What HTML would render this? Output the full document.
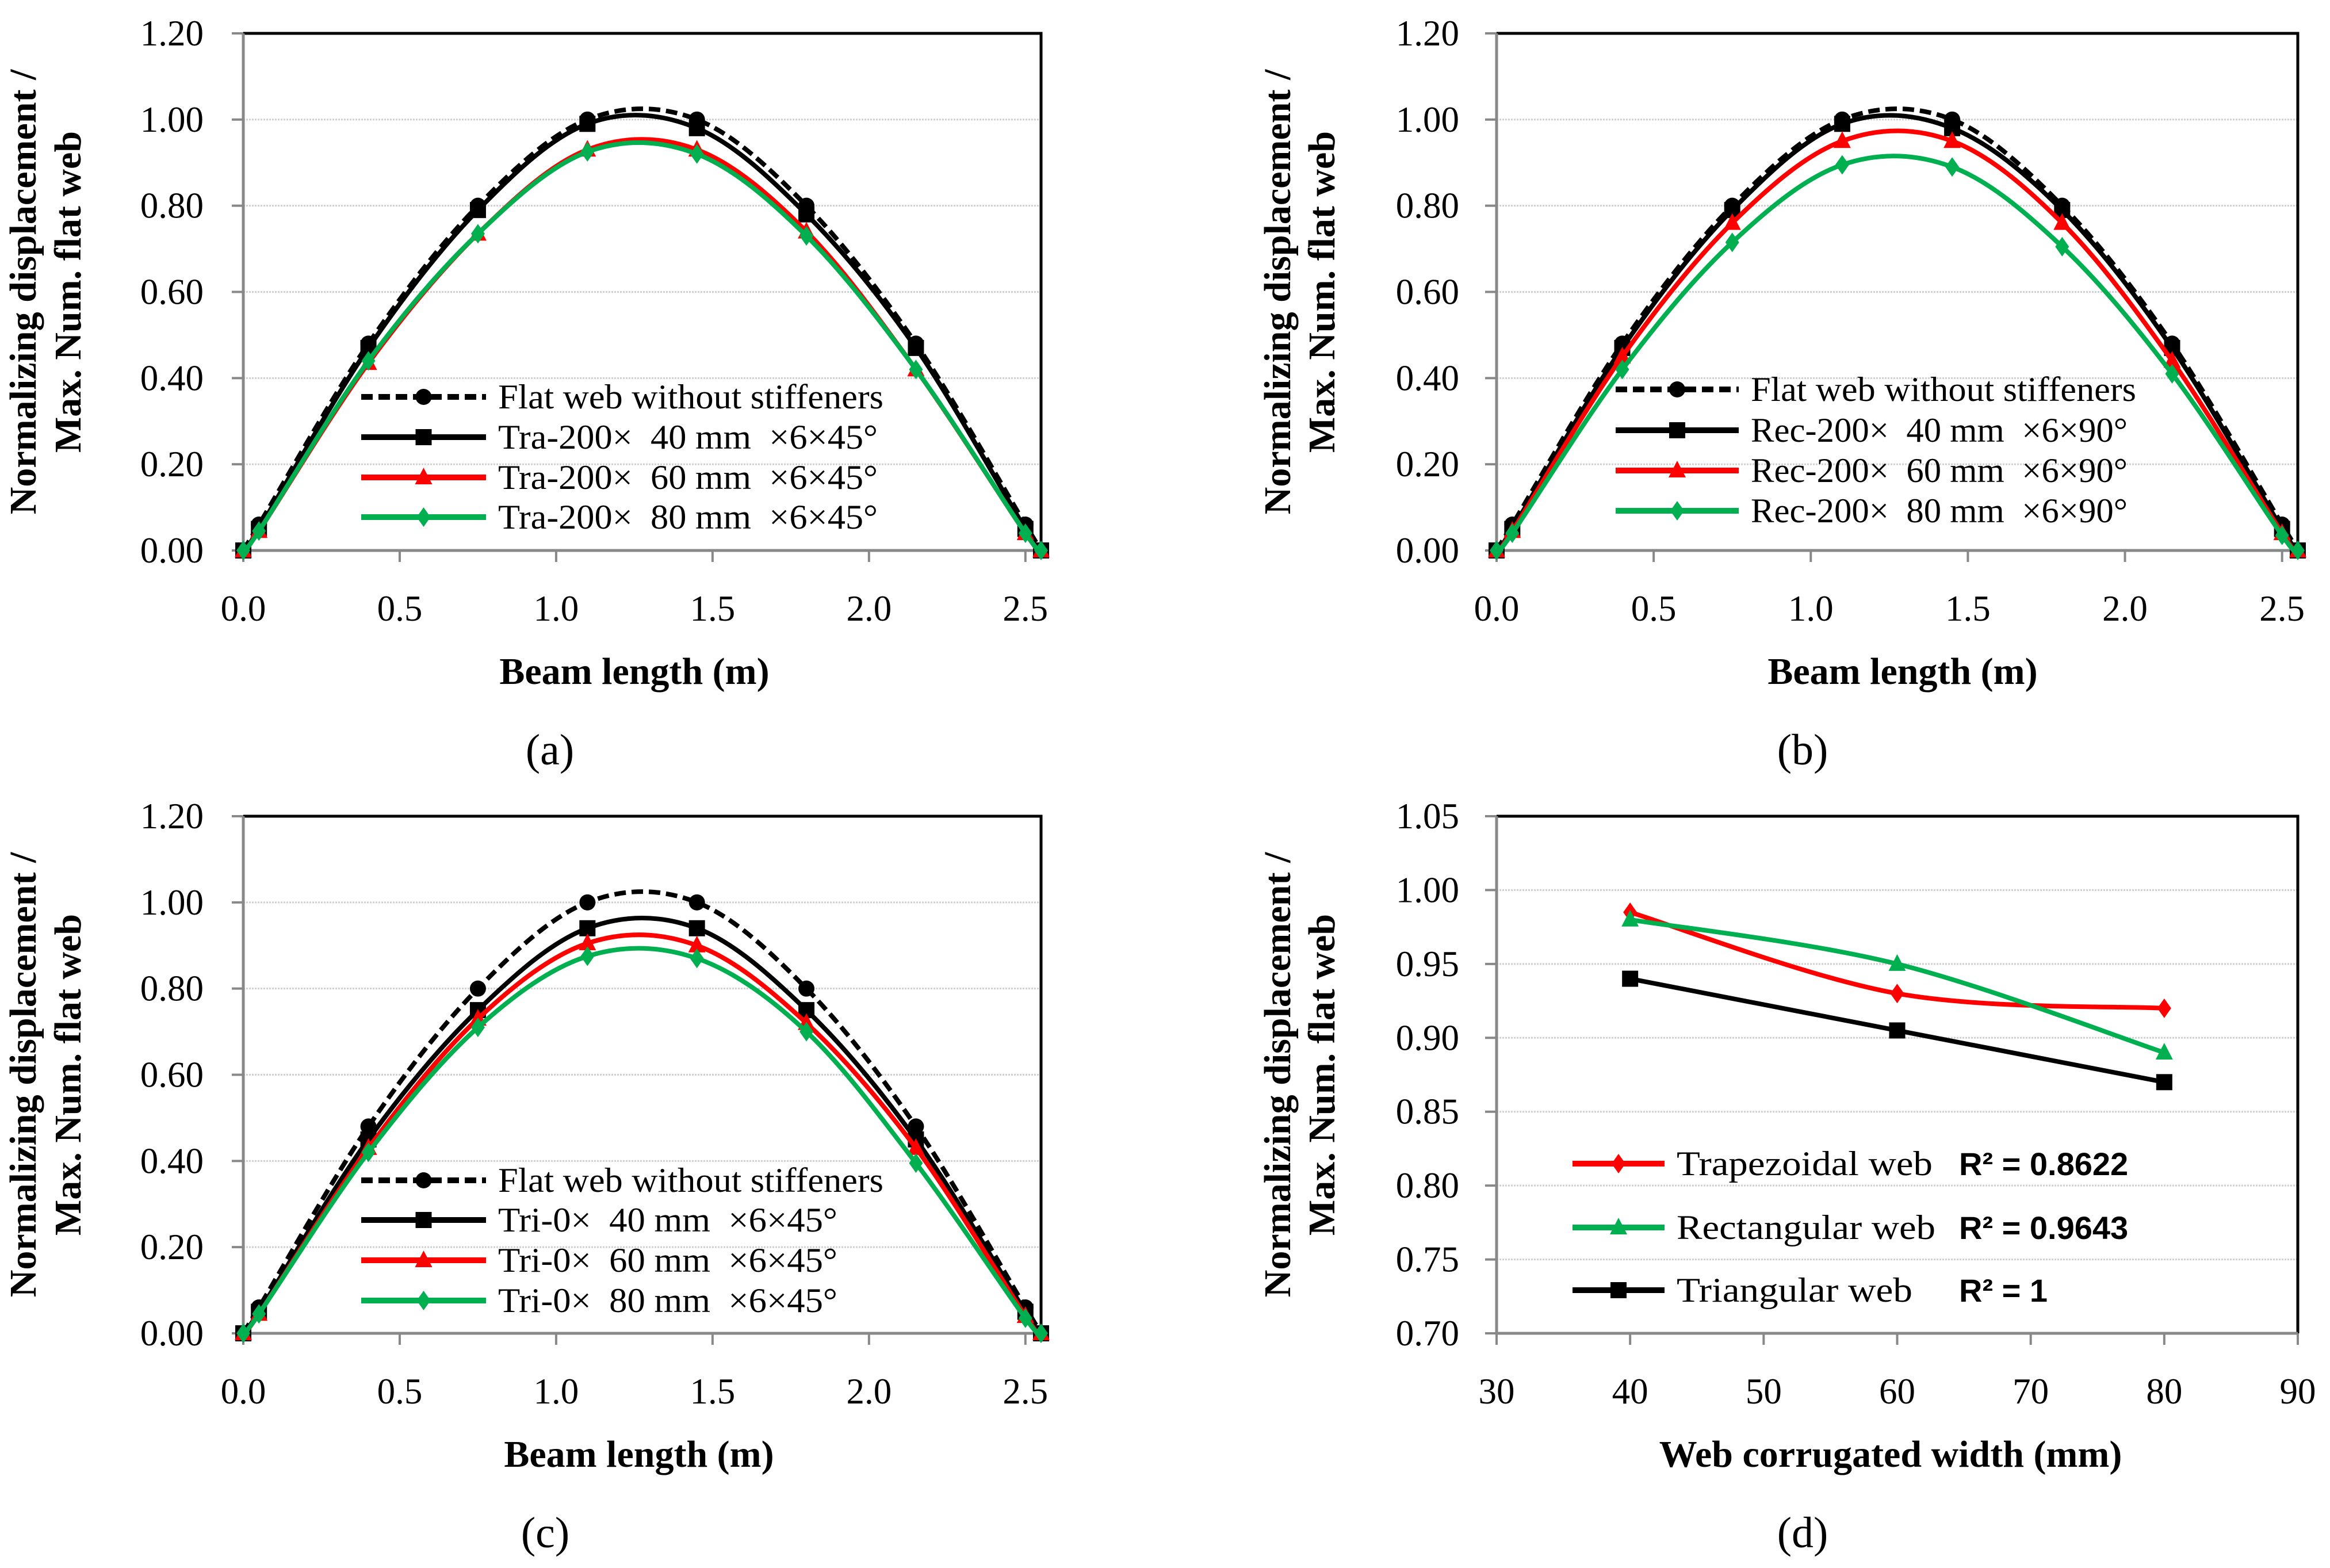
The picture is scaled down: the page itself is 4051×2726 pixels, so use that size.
<!DOCTYPE html>
<html><head><meta charset="utf-8"><style>html,body{margin:0;padding:0;background:#fff}svg{display:block}</style></head>
<body>
<svg id="fig" width="4051" height="2726" viewBox="0 0 4051 2726" xmlns="http://www.w3.org/2000/svg" font-family="'Liberation Serif', serif"></svg>
<script>
const beamX = [0, 0.05, 0.4, 0.75, 1.1, 1.45, 1.8, 2.15, 2.5, 2.55];
const flatVals = [0, 0.06, 0.48, 0.80, 1.00, 1.00, 0.80, 0.48, 0.06, 0];
const tra40 = [0, 0.05, 0.47, 0.79, 0.99, 0.98, 0.78, 0.47, 0.05, 0];
const tra60 = [0, 0.045, 0.435, 0.735, 0.93, 0.93, 0.74, 0.42, 0.04, 0];
const tra80 = [0, 0.045, 0.44, 0.735, 0.925, 0.92, 0.73, 0.42, 0.04, 0];
const rec40 = [0, 0.05, 0.47, 0.79, 0.99, 0.98, 0.79, 0.47, 0.05, 0];
const rec60 = [0, 0.045, 0.45, 0.76, 0.95, 0.95, 0.76, 0.44, 0.04, 0];
const rec80 = [0, 0.04, 0.42, 0.715, 0.895, 0.89, 0.705, 0.41, 0.035, 0];
const tri40 = [0, 0.05, 0.45, 0.75, 0.94, 0.94, 0.75, 0.45, 0.05, 0];
const tri60 = [0, 0.045, 0.43, 0.73, 0.905, 0.90, 0.72, 0.43, 0.04, 0];
const tri80 = [0, 0.045, 0.42, 0.71, 0.875, 0.87, 0.70, 0.395, 0.035, 0];
const beamXTicks = ["0.0","0.5","1.0","1.5","2.0","2.5"];
const beamYTicks = ["0.00","0.20","0.40","0.60","0.80","1.00","1.20"];
const widthX = [40, 60, 80];
const trapVals = [0.985, 0.93, 0.92];
const rectVals = [0.98, 0.95, 0.89];
const triVals = [0.94, 0.905, 0.87];
const widthXTicks = ["30","40","50","60","70","80","90"];
const widthYTicks = ["0.70","0.75","0.80","0.85","0.90","0.95","1.00","1.05"];
const legA = ["Flat web without stiffeners","Tra-200\u00d7  40 mm  \u00d76\u00d745\u00b0","Tra-200\u00d7  60 mm  \u00d76\u00d745\u00b0","Tra-200\u00d7  80 mm  \u00d76\u00d745\u00b0"];
const legB = ["Flat web without stiffeners","Rec-200\u00d7  40 mm  \u00d76\u00d790\u00b0","Rec-200\u00d7  60 mm  \u00d76\u00d790\u00b0","Rec-200\u00d7  80 mm  \u00d76\u00d790\u00b0"];
const legC = ["Flat web without stiffeners","Tri-0\u00d7  40 mm  \u00d76\u00d745\u00b0","Tri-0\u00d7  60 mm  \u00d76\u00d745\u00b0","Tri-0\u00d7  80 mm  \u00d76\u00d745\u00b0"];
const legD = ["Trapezoidal web","Rectangular web","Triangular web"];
const r2D = ["R\u00b2 = 0.8622","R\u00b2 = 0.9643","R\u00b2 = 1"];

const NS="http://www.w3.org/2000/svg";
const svg=document.getElementById('fig');
function mk(tag,attrs,parent){const e=document.createElementNS(NS,tag);for(const k in attrs)e.setAttribute(k,attrs[k]);(parent||svg).appendChild(e);return e;}
function spline(pts){let d="M"+pts[0][0]+","+pts[0][1];for(let i=0;i<pts.length-1;i++){const p0=pts[Math.max(0,i-1)],p1=pts[i],p2=pts[i+1],p3=pts[Math.min(pts.length-1,i+2)];const c1x=p1[0]+(p2[0]-p0[0])/6,c1y=p1[1]+(p2[1]-p0[1])/6,c2x=p2[0]-(p3[0]-p1[0])/6,c2y=p2[1]-(p3[1]-p1[1])/6;d+=" C"+c1x+","+c1y+" "+c2x+","+c2y+" "+p2[0]+","+p2[1];}return d;}
function marker(g,type,x,y,color){let e;
 if(type==='circle'){e=mk('circle',{cx:x,cy:y,r:14,fill:color},g);}
 else if(type==='square'){e=mk('rect',{x:x-14,y:y-14,width:28,height:28,fill:color},g);}
 else if(type==='triangle'){e=mk('polygon',{points:`${x},${y-17} ${x+15},${y+12} ${x-15},${y+12}`,fill:color},g);}
 else {e=mk('polygon',{points:`${x},${y-17} ${x+12},${y} ${x},${y+17} ${x-12},${y}`,fill:color},g);}
 return e;}

function panel(cfg){
 const g=mk('g',{});
 
 
 const {L,R,T,B,xmin,xmax,ymin,ymax}=cfg;
 const sx=v=>L+(v-xmin)/(xmax-xmin)*(R-L), sy=v=>B-(v-ymin)/(ymax-ymin)*(B-T);
 cfg.yticks.forEach((t,i)=>{const v=ymin+i*cfg.ystep;const y=sy(v);
  if(i>0&&i<cfg.yticks.length-1){const gl=mk('line',{x1:L,x2:R,y1:y,y2:y,stroke:'#d0d0d0','stroke-width':3,'stroke-dasharray':'3 2'},g);}
  const tk=mk('line',{x1:L-20,x2:L,y1:y,y2:y,stroke:'#888','stroke-width':4},g);
  const tl=mk('text',{x:cfg.ylabX,y:y+21,'text-anchor':'end','font-size':63},g);tl.textContent=t;
 });
 cfg.xticks.forEach((t,i)=>{const v=cfg.x0+i*cfg.xstep;const x=sx(v);
  const tk=mk('line',{x1:x,x2:x,y1:B,y2:B+20,stroke:'#888','stroke-width':4},g);
  const tl=mk('text',{x:x,y:B+122,'text-anchor':'middle','font-size':63},g);tl.textContent=t;
 });
 const frame=mk('path',{d:`M${L},${T} H${R} V${B}`,fill:'none',stroke:'#000','stroke-width':5},g);
 const ax=mk('path',{d:`M${L},${T} V${B} H${R}`,fill:'none',stroke:'#888','stroke-width':5},g);
 cfg.series.forEach(s=>{const sg=mk('g',{},g);
  const pts=cfg.xs.map((x,i)=>[sx(x),sy(s.vals[i])]);
  const p=mk('path',{d:spline(pts),fill:'none',stroke:s.color,'stroke-width':8,'stroke-dasharray':s.dash||'none'},sg);
  pts.forEach(pt=>{const m=marker(sg,s.marker,pt[0],pt[1],s.color);});
 });
 const lg=mk('g',{},g);
 cfg.series.forEach((s,i)=>{const y=cfg.legY[i];
  const ln=mk('line',{x1:cfg.legX1,x2:cfg.legX2,y1:y,y2:y,stroke:s.color,'stroke-width':10,'stroke-dasharray':s.dash||'none'},lg);
  const m=marker(lg,s.marker,(cfg.legX1+cfg.legX2)/2,y,s.color);
  const t=mk('text',{x:cfg.legTX,y:y+20,'font-size':60},lg);t.textContent=cfg.legTexts[i];
  if(cfg.legW&&cfg.legW[i]){t.setAttribute('textLength',cfg.legW[i]);t.setAttribute('lengthAdjust','spacingAndGlyphs');t.setAttribute('xml:space','preserve');t.style.whiteSpace='pre';}
  if(cfg.r2){const r=mk('text',{x:cfg.r2X,y:y+20,'font-size':56,'font-weight':'bold','font-family':"'Liberation Sans', sans-serif"},lg);r.textContent=cfg.r2[i];}
 });
 const cy=(T+B)/2;
 [[cfg.ytX1,cfg.yt1],[cfg.ytX2,cfg.yt2]].forEach(([x,txt])=>{const t=mk('text',{x:x,y:cy,'text-anchor':'middle','font-size':66,'font-weight':'bold',transform:`rotate(-90 ${x} ${cy})`},g);t.textContent=txt;});
 const xt=mk('text',{x:cfg.xtX,y:B+232,'text-anchor':'middle','font-size':66,'font-weight':'bold'},g);xt.textContent=cfg.xtitle;
 const pl=mk('text',{x:cfg.plX,y:B+372,'text-anchor':'middle','font-size':76},g);pl.textContent=cfg.plabel;
}
const base={xmin:0,xmax:2.55,ymin:0,ymax:1.2,ystep:0.2,x0:0,xstep:0.5,xs:beamX,xticks:beamXTicks,yticks:beamYTicks,xtitle:'Beam length (m)',yt1:'Normalizing displacement /',yt2:'Max. Num. flat web'};
function beamSeries(a,b,c){return [{name:'flat-web-series',vals:flatVals,color:'#000',marker:'circle',dash:'20 10'},{name:'series-40mm',vals:a,color:'#000',marker:'square'},{name:'series-60mm',vals:b,color:'#ff0000',marker:'triangle'},{name:'series-80mm',vals:c,color:'#00b050',marker:'diamond'}];}
panel(Object.assign({},base,{name:'panel-a',L:423,R:1810,T:58,B:957,ylabX:354,ytX1:62,ytX2:140,xtX:1103,plX:956,legX1:628,legX2:845,legTX:866,legY:[690,760,830,899],legW:[670,660,660,660],legTexts:legA,plabel:'(a)',series:beamSeries(tra40,tra60,tra80)}));
panel(Object.assign({},base,{name:'panel-b',L:2602,R:3995,T:58,B:957,ylabX:2537,ytX1:2243,ytX2:2320,xtX:3308,plX:3134,legX1:2809,legX2:3023,legTX:3044,legY:[677,748,818,888],legW:[670,655,655,655],legTexts:legB,plabel:'(b)',series:beamSeries(rec40,rec60,rec80)}));
panel(Object.assign({},base,{name:'panel-c',L:423,R:1810,T:1419,B:2318,ylabX:354,ytX1:62,ytX2:140,xtX:1111,plX:948,legX1:628,legX2:845,legTX:866,legY:[2052,2121,2191,2261],legW:[670,590,590,590],legTexts:legC,plabel:'(c)',series:beamSeries(tri40,tri60,tri80)}));
panel({name:'panel-d',L:2602,R:3995,T:1419,B:2318,xmin:30,xmax:90,ymin:0.7,ymax:1.05,ystep:0.05,x0:30,xstep:10,xs:widthX,xticks:widthXTicks,yticks:widthYTicks,ylabX:2537,ytX1:2243,ytX2:2320,xtitle:'Web corrugated width (mm)',yt1:'Normalizing displacement /',yt2:'Max. Num. flat web',xtX:3287,plX:3134,legX1:2734,legX2:2894,legTX:2915,legY:[2023,2134,2243],legW:[445,450,410],legTexts:legD,r2:r2D,r2X:3406,plabel:'(d)',
 series:[{name:'trapezoidal-series',vals:trapVals,color:'#ff0000',marker:'diamond'},{name:'rectangular-series',vals:rectVals,color:'#00b050',marker:'triangle'},{name:'triangular-series',vals:triVals,color:'#000',marker:'square'}]});
</script>
</body></html>
